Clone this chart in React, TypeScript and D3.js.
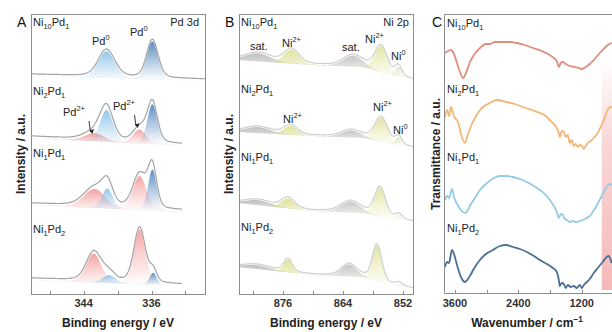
import * as d3 from "d3";

type Peak = [number, number, number, string]; // centre, height, fwhm, kind
type Part = [string, "n" | "sub" | "sup"];

// sample names: Ni_a Pd_b
const SAMPLES: [string, string][] = [["10", "1"], ["2", "1"], ["1", "1"], ["1", "2"]];

// ---- Panel A: Pd 3d (binding energy eV, intensity a.u.)
const PD_RANGE: [number, number][] = [[350.2, 329.7], [350.2, 332.4], [350.2, 332.4], [350.2, 332.4]];
const PD_BG: [number, number][] = [[218, 213], [156, 147], [89, 81], [14, 7]];
const PD_NI10PD1: Peak[] = [[341.3, 27, 2.3, "pd0a"], [335.9, 38, 1.6, "pd0b"]];
const PD_NI2PD1: Peak[] = [[342.7, 8, 2.8, "pd2"], [341.3, 32, 1.8, "pd0a"], [337.4, 14, 1.8, "pd2"], [335.9, 40, 1.4, "pd0b"]];
const PD_NI1PD1: Peak[] = [[342.7, 19, 3.0, "pd2"], [341.2, 20, 1.5, "pd0a"], [337.4, 34, 1.9, "pd2"], [335.9, 41, 1.2, "pd0b"]];
const PD_NI1PD2: Peak[] = [[342.8, 29, 2.1, "pd2"], [341.0, 8, 1.8, "pd0a"], [337.4, 55, 1.6, "pd2"], [335.8, 12, 1.0, "pd0b"]];
const PD_PEAKS = [PD_NI10PD1, PD_NI2PD1, PD_NI1PD1, PD_NI1PD2];
const PD_TICKS = [344, 336];
const PD_MINOR = [348, 340, 332];

// ---- Panel B: Ni 2p
const NI_BG_E = [885, 870, 860, 855, 850];
const NI_BG: number[][] = [
  [234, 229, 227, 220, 214],
  [162, 158, 156, 151, 146],
  [91, 83, 81, 76, 72],
  [27, 19, 17, 10, 5],
];
const NI_NI10PD1: Peak[] = [[881.0, 8, 6, "sat"], [874.3, 14, 3.5, "ni2"], [862.0, 11, 4.5, "sat"], [856.4, 26, 3.0, "ni2"], [852.9, 10, 1.5, "ni0"]];
const NI_NI2PD1: Peak[] = [[881.0, 6, 6, "sat"], [874.5, 9, 3.2, "ni2"], [862.3, 7, 4.5, "sat"], [856.4, 24, 3.0, "ni2"], [852.9, 8, 1.5, "ni0"]];
const NI_NI1PD1: Peak[] = [[881.0, 5, 6, "sat"], [875.0, 10, 3.0, "ni2"], [862.5, 11, 4.5, "sat"], [856.6, 29, 2.6, "ni2"], [852.8, 5, 1.5, "ni0"]];
const NI_NI1PD2: Peak[] = [[881.2, 4, 6, "sat"], [875.0, 13, 2.0, "ni2"], [862.8, 12, 3.5, "sat"], [857.2, 36, 2.2, "ni2"], [852.8, 3, 1.5, "ni0"]];
const NI_PEAKS = [NI_NI10PD1, NI_NI2PD1, NI_NI1PD1, NI_NI1PD2];
const NI_TICKS = [876, 864, 852];
const NI_MINOR = [882, 870, 858];

// ---- Panel C: FTIR (wavenumber cm-1, transmittance a.u.)
const IR_NI10PD1: [number, number][] = [
  [3789, 240], [3732, 242], [3676, 243], [3619, 239], [3562, 230], [3506, 221], [3449, 215], [3392, 220],
  [3317, 231], [3241, 238], [3128, 245], [3014, 249], [2939, 249], [2844, 251], [2750, 251], [2561, 251],
  [2428, 250], [2277, 248], [2126, 245], [1956, 242], [1805, 238], [1729, 235], [1672, 232], [1634, 226],
  [1597, 230], [1559, 231], [1502, 229], [1427, 227], [1332, 226], [1256, 225], [1200, 224], [1124, 226],
  [1049, 229], [954, 234], [860, 240], [784, 244], [708, 248], [633, 250],
];
const IR_NI2PD1: [number, number][] = [
  [3789, 176], [3751, 183], [3713, 177], [3676, 186], [3638, 180], [3600, 175], [3543, 171], [3487, 159],
  [3449, 153], [3411, 150], [3354, 159], [3279, 169], [3203, 177], [3071, 186], [2939, 190], [2806, 193],
  [2617, 191], [2466, 189], [2315, 186], [2145, 183], [1994, 180], [1880, 177], [1805, 173], [1729, 169],
  [1672, 165], [1634, 160], [1616, 156], [1578, 162], [1540, 161], [1502, 156], [1464, 158], [1427, 150],
  [1389, 153], [1351, 147], [1313, 149], [1275, 146], [1238, 148], [1200, 147], [1162, 144], [1124, 147],
  [1087, 150], [1030, 152], [973, 155], [897, 160], [841, 166], [784, 173], [727, 181], [689, 185], [633, 186],
];
const IR_NI1PD1: [number, number][] = [
  [3789, 93], [3751, 97], [3713, 95], [3657, 104], [3619, 96], [3562, 89], [3487, 83], [3411, 80], [3354, 83],
  [3298, 89], [3222, 95], [3128, 103], [2995, 110], [2863, 115], [2750, 117], [2617, 117], [2504, 116],
  [2372, 114], [2239, 111], [2107, 107], [1994, 103], [1880, 98], [1805, 93], [1729, 87], [1672, 81],
  [1634, 75], [1597, 79], [1559, 78], [1521, 74], [1483, 73], [1427, 71], [1370, 72], [1313, 71], [1238, 72],
  [1181, 73], [1105, 75], [1030, 78], [954, 84], [860, 93], [784, 101], [727, 106], [670, 109], [633, 108],
];
const IR_NI1PD2: [number, number][] = [
  [3789, 26], [3751, 31], [3713, 30], [3657, 43], [3619, 39], [3562, 28], [3487, 16], [3411, 11], [3354, 14],
  [3298, 19], [3222, 26], [3128, 33], [3014, 39], [2882, 43], [2750, 47], [2636, 48], [2504, 46], [2372, 44],
  [2239, 41], [2107, 37], [1994, 33], [1861, 29], [1748, 25], [1672, 21], [1634, 13], [1616, 7], [1578, 10],
  [1540, 9], [1502, 5], [1464, 8], [1408, 6], [1351, 7], [1294, 5], [1238, 8], [1200, 5], [1162, 8],
  [1105, 11], [1049, 14], [973, 20], [897, 25], [803, 31], [727, 36], [689, 37], [652, 33], [633, 30],
];
const IR_DATA = [IR_NI10PD1, IR_NI2PD1, IR_NI1PD1, IR_NI1PD2];
const IR_COLORS = ["#df8e7c", "#f3b675", "#93cbe3", "#4b6f93"];
const IR_TICKS = [3600, 2400, 1200];
const IR_MINOR = [3000, 1800];
const IR_BAND = [820, 380];

const KIND_COLOR: Record<string, string> = {
  pd2: "#f39292",
  pd0a: "#80bde6",
  pd0b: "#3573b4",
  sat: "#bcbcbc",
  ni2: "#dcdf8e",
  ni0: "#bcd994",
};

const FONT = "'Liberation Sans', Arial, Helvetica, sans-serif";
const TOP = 14;
const BOTTOM = 294;

// pseudo-Voigt line shape
function pv(e: number, c: number, h: number, w: number) {
  const d = (e - c) / w;
  return h * (0.75 * Math.exp(-4 * Math.LN2 * d * d) + 0.25 / (1 + 4 * d * d));
}

function Rich({ x, y, parts, size = 11, anchor = "start", weight = "normal", fill = "#222" }: {
  x: number; y: number; parts: Part[]; size?: number; anchor?: string; weight?: string; fill?: string;
}) {
  let cur = 0;
  return (
    <text x={x} y={y} fontSize={size} textAnchor={anchor} fontWeight={weight} fill={fill}>
      {parts.map(([t, k], i) => {
        const target = k === "sub" ? size * 0.3 : k === "sup" ? -size * 0.42 : 0;
        const dy = target - cur;
        cur = target;
        return (
          <tspan key={i} dy={dy} fontSize={k === "n" ? size : size * 0.68}>
            {t}
          </tspan>
        );
      })}
    </text>
  );
}

const sampleParts = (s: [string, string]): Part[] => [["Ni", "n"], [s[0], "sub"], ["Pd", "n"], [s[1], "sub"]];

function XpsPanel({ x, y, peaks, bg, range, envColor, envOffset, id }: {
  x: d3.ScaleLinear<number, number>; y: d3.ScaleLinear<number, number>;
  peaks: Peak[]; bg: (e: number) => number; range: [number, number]; envColor: string; envOffset: number; id: string;
}) {
  const es = d3.range(range[0], range[1] - 0.001, -0.05);
  const area = d3.area<number>().x((e) => x(e)).y0((e) => y(bg(e)));
  const line = d3.line<number>().x((e) => x(e)).y((e) => y(bg(e) + envOffset + d3.sum(peaks, (p) => pv(e, p[0], p[1], p[2]))));
  return (
    <g clipPath={`url(#${id})`}>
      {peaks.map((p, i) => (
        <path
          key={i}
          d={area.y1((e) => y(bg(e) + pv(e, p[0], p[1], p[2])))(es) || ""}
          fill={`url(#grad-${p[3]})`}
        />
      ))}
      <path d={line(es) || ""} fill="none" stroke={envColor} strokeWidth={1.2} />
    </g>
  );
}

export default function App() {
  const xA = d3.scaleLinear().domain([350.2, 329.7]).range([31, 205]);
  const xB = d3.scaleLinear().domain([884.8, 850]).range([239, 413]);
  const xC = d3.scaleLinear().domain([3808, 400]).range([444, 624]);
  const yAB = d3.scaleLinear().domain([0, 280]).range([BOTTOM, TOP]);
  const yC = d3.scaleLinear().domain([0, 279]).range([293, TOP]);

  const irLine = d3.line<[number, number]>().x((d) => xC(d[0])).y((d) => yC(d[1])).curve(d3.curveMonotoneX);

  const labelRowsA = [26, 95, 157, 233];
  const labelRowsB = [26, 93, 161, 231];
  const labelRowsC = [27, 93, 161, 232];

  const tickLabel = (xx: number, t: number | string, k: string) => (
    <text key={k} x={xx} y={307} fontSize={11} fontWeight="bold" textAnchor="middle" fill="#333">{t}</text>
  );
  const tick = (xx: number, k: string, bottom = BOTTOM) => (
    <line key={k} x1={Math.round(xx) + 0.5} x2={Math.round(xx) + 0.5} y1={bottom} y2={bottom - 3} stroke="#8c8c8c" />
  );

  return (
    <svg width={612} height={332} style={{ position: "absolute", left: 0, top: 0, background: "#fff" }} fontFamily={FONT}>
      <defs>
        {Object.entries(KIND_COLOR).map(([k, c]) => (
          <linearGradient key={k} id={`grad-${k}`} x1="0" y1="0" x2="0.15" y2="1">
            <stop offset="0" stopColor={c} stopOpacity={0.92} />
            <stop offset="0.5" stopColor={c} stopOpacity={0.45} />
            <stop offset="1" stopColor={c} stopOpacity={0.05} />
          </linearGradient>
        ))}
        <linearGradient id="band" x1="0" y1="0" x2="0" y2="1">
          <stop offset="0" stopColor="#f3a6a6" stopOpacity={0} />
          <stop offset="0.35" stopColor="#f3a6a6" stopOpacity={0.45} />
          <stop offset="1" stopColor="#f3a6a6" stopOpacity={0.8} />
        </linearGradient>
        <clipPath id="clipA"><rect x={31} y={TOP} width={174} height={BOTTOM - TOP} /></clipPath>
        <clipPath id="clipB"><rect x={239} y={TOP} width={174} height={BOTTOM - TOP} /></clipPath>
        <clipPath id="clipC"><rect x={444} y={TOP} width={200} height={293 - TOP} /></clipPath>
        <marker id="arrow" viewBox="0 0 6 6" refX="3" refY="5" markerWidth="5" markerHeight="5" orient="auto-start-reverse">
          <path d="M0,0 L3,6 L6,0 Z" fill="#222" transform="rotate(-90 3 3)" />
        </marker>
      </defs>

      {/* ---------- Panel A ---------- */}
      {PD_PEAKS.map((pk, i) => {
        const bgS = d3.scaleLinear().domain([350.2, 329.7]).range(PD_BG[i]);
        return (
          <XpsPanel key={i} id="clipA" x={xA} y={yAB} peaks={pk} bg={(e) => bgS(e)} range={PD_RANGE[i]} envColor="#a3a3a3" envOffset={2} />
        );
      })}
      <rect x={31.5} y={TOP + 0.5} width={174} height={BOTTOM - TOP} fill="none" stroke="#8c8c8c" />
      {PD_TICKS.map((t) => tick(xA(t), `ta${t}`))}
      {PD_MINOR.map((t) => tick(xA(t), `ma${t}`))}
      {PD_TICKS.map((t) => tickLabel(xA(t), t, `la${t}`))}
      {SAMPLES.map((s, i) => <Rich key={i} x={33} y={labelRowsA[i]} parts={sampleParts(s)} />)}
      <text x={199} y={26} fontSize={11} textAnchor="end" fill="#222">Pd 3d</text>
      <Rich x={92} y={45} parts={[["Pd", "n"], ["0", "sup"]]} />
      <Rich x={130} y={36} parts={[["Pd", "n"], ["0", "sup"]]} />
      <Rich x={63} y={116} parts={[["Pd", "n"], ["2+", "sup"]]} />
      <Rich x={113} y={110} parts={[["Pd", "n"], ["2+", "sup"]]} />
      <line x1={89} y1={121} x2={90.5} y2={132} stroke="#222" strokeWidth={0.9} markerEnd="url(#arrow)" />
      <line x1={134.5} y1={115} x2={136} y2={126} stroke="#222" strokeWidth={0.9} markerEnd="url(#arrow)" />
      <text x={17} y={27} fontSize={14} fill="#111">A</text>
      <text transform="translate(25,154) rotate(-90)" fontSize={12} fontWeight="bold" textAnchor="middle" fill="#222">Intensity / a.u.</text>
      <text x={118} y={327} fontSize={12} fontWeight="bold" textAnchor="middle" fill="#222">Binding energy / eV</text>

      {/* ---------- Panel B ---------- */}
      {NI_PEAKS.map((pk, i) => {
        const bgS = d3.scaleLinear().domain(NI_BG_E).range(NI_BG[i]);
        return (
          <XpsPanel key={i} id="clipB" x={xB} y={yAB} peaks={pk} bg={(e) => bgS(e)} range={[884.8, 850]} envColor="#cfcfcf" envOffset={1} />
        );
      })}
      <rect x={239.5} y={TOP + 0.5} width={174} height={BOTTOM - TOP} fill="none" stroke="#8c8c8c" />
      {NI_TICKS.map((t) => tick(xB(t), `tb${t}`))}
      {NI_MINOR.map((t) => tick(xB(t), `mb${t}`))}
      {NI_TICKS.map((t) => tickLabel(xB(t), t, `lb${t}`))}
      {SAMPLES.map((s, i) => <Rich key={i} x={241} y={labelRowsB[i]} parts={sampleParts(s)} />)}
      <text x={409} y={26} fontSize={11} textAnchor="end" fill="#222">Ni 2p</text>
      <text x={250} y={50} fontSize={11} fill="#222">sat.</text>
      <Rich x={282} y={47} parts={[["Ni", "n"], ["2+", "sup"]]} />
      <text x={342} y={51} fontSize={11} fill="#222">sat.</text>
      <Rich x={365} y={43} parts={[["Ni", "n"], ["2+", "sup"]]} />
      <Rich x={391} y={60} parts={[["Ni", "n"], ["0", "sup"]]} />
      <Rich x={283} y={123} parts={[["Ni", "n"], ["2+", "sup"]]} />
      <Rich x={373} y={111} parts={[["Ni", "n"], ["2+", "sup"]]} />
      <Rich x={393} y={134} parts={[["Ni", "n"], ["0", "sup"]]} />
      <text x={225} y={27} fontSize={14} fill="#111">B</text>
      <text transform="translate(233,154) rotate(-90)" fontSize={12} fontWeight="bold" textAnchor="middle" fill="#222">Intensity / a.u.</text>
      <text x={326} y={327} fontSize={12} fontWeight="bold" textAnchor="middle" fill="#222">Binding energy / eV</text>

      {/* ---------- Panel C ---------- */}
      <rect x={xC(IR_BAND[0])} y={60} width={xC(IR_BAND[1]) - xC(IR_BAND[0])} height={230} fill="url(#band)" />
      <g clipPath="url(#clipC)">
        {IR_DATA.map((d, i) => (
          <path key={i} d={irLine(d) || ""} fill="none" stroke={IR_COLORS[i]} strokeWidth={1.8} strokeLinejoin="round" />
        ))}
      </g>
      <path d={`M640,${TOP + 0.5} H444.5 V293.5 H640`} fill="none" stroke="#8c8c8c" />
      {IR_TICKS.map((t) => tick(xC(t), `tc${t}`, 293))}
      {IR_MINOR.map((t) => tick(xC(t), `mc${t}`, 293))}
      {IR_TICKS.map((t) => tickLabel(xC(t), t, `lc${t}`))}
      {SAMPLES.map((s, i) => <Rich key={i} x={447} y={labelRowsC[i]} parts={sampleParts(s)} />)}
      <text x={432} y={27} fontSize={14} fill="#111">C</text>
      <text transform="translate(440,154) rotate(-90)" fontSize={12} fontWeight="bold" textAnchor="middle" fill="#222">Transmittance / a.u.</text>
      <Rich x={527} y={327} size={12} weight="bold" anchor="middle" parts={[["Wavenumber / cm", "n"], ["−1", "sup"]]} />
    </svg>
  );
}
